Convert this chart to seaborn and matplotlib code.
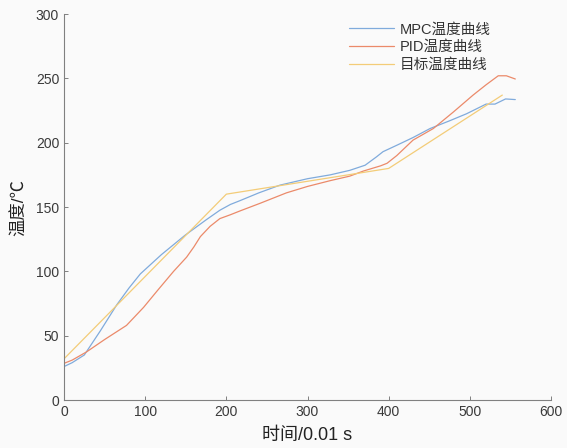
import matplotlib
matplotlib.use("Agg")
import matplotlib.pyplot as plt
import seaborn as sns
import pandas as pd

# MPC curve
mpc_t = [0, 10, 25, 45, 65, 80, 94, 120, 149, 175, 192, 205, 217, 240, 266, 300, 328, 352, 371,
         385, 393, 410, 430, 451, 475, 496, 520, 531, 544, 556]
mpc_temp = [26, 29, 35, 54, 74, 87, 98, 113, 128, 140, 147.5, 152, 155, 161, 167, 172, 175, 178.5, 182.5,
            189, 193, 198, 204, 211, 217, 222.5, 230, 230, 234, 233.5]

# PID curve
pid_t = [0, 10, 28, 50, 77, 98, 115, 135, 151, 160, 168, 180, 192, 205, 217, 242, 274, 300, 328, 352,
         369, 390, 398, 410, 430, 455, 480, 504, 520, 535, 545, 556]
pid_temp = [28.5, 31, 37.5, 47, 58, 72, 85, 100, 111, 119, 127, 135, 141, 144, 147, 153, 161, 166, 170.5, 174,
            178, 182, 184, 190, 202, 211, 224, 237, 245, 252, 252, 249.5]

# target curve
ref_t = [0, 200, 400, 540]
ref_temp = [32, 160, 180, 237]

labels = ["MPC温度曲线", "PID温度曲线", "目标温度曲线"]
colors = ["#80abdc", "#eb8a6a", "#f3cc78"]

sns.set_style("ticks")
plt.rcParams["font.family"] = ["Liberation Sans", "Noto Sans CJK SC", "DejaVu Sans"]
plt.rcParams["axes.unicode_minus"] = False

fig = plt.figure(figsize=(5.67, 4.48), dpi=100, facecolor="#fafafa")
ax = fig.add_axes([0.1129, 0.1071, 0.8589, 0.8616])
ax.set_facecolor("#fafafa")

for t, v, lab, c in zip([mpc_t, pid_t, ref_t], [mpc_temp, pid_temp, ref_temp], labels, colors):
    df = pd.DataFrame({"t": t, "v": v})
    sns.lineplot(data=df, x="t", y="v", ax=ax, color=c, lw=0.9, label=lab, sort=False)

ax.set_xlim(0, 600)
ax.set_ylim(0, 300)
ax.set_xticks(range(0, 601, 100))
ax.set_yticks(range(0, 301, 50))
ax.tick_params(direction="in", length=3, width=0.7, colors="#808080", labelcolor="#3a3a3a",
               labelsize=10)
sns.despine(ax=ax)
for s in ["left", "bottom"]:
    ax.spines[s].set_color("#808080")
    ax.spines[s].set_linewidth(0.8)

ax.set_xlabel("时间/0.01 s", fontsize=13, color="#222222", labelpad=6)
ax.set_ylabel("温度/℃", fontsize=12.5, color="#222222", labelpad=6)

leg = ax.legend(loc="upper right", bbox_to_anchor=(0.903, 1.012), frameon=False, fontsize=10.5,
                handlelength=3.1, labelspacing=0.25, handletextpad=0.4)
for txt in leg.get_texts():
    txt.set_color("#333333")

fig.savefig("out.png", dpi=100, facecolor=fig.get_facecolor())
